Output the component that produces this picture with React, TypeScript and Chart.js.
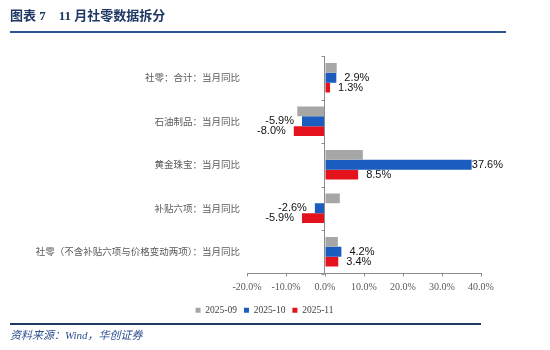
import React, { useEffect, useRef } from 'react';
import { Chart, registerables } from 'chart.js';

Chart.register(...registerables);

const categories: string[] = [
  '社零：合计：当月同比',
  '石油制品：当月同比',
  '黄金珠宝：当月同比',
  '补贴六项：当月同比',
  '社零（不含补贴六项与价格变动两项）：当月同比',
];
const seriesNames: string[] = ['2025-09', '2025-10', '2025-11'];
const sep2025: number[] = [3.0, -7.1, 9.7, 3.8, 3.3];
const oct2025: number[] = [2.9, -5.9, 37.6, -2.6, 4.2];
const nov2025: number[] = [1.3, -8.0, 8.5, -5.9, 3.4];
const xMin = -20;
const xMax = 40;
const xStep = 10;
const labeledSeries: number[] = [1, 2];

const colors = ['#A6A6A6', '#1A5DBF', '#E3121D'];

const zeroAxisPlugin = {
  id: 'zeroAxis',
  afterDatasetsDraw(chart: any) {
    const { ctx, chartArea, scales } = chart;
    const x0 = Math.round(scales.x.getPixelForValue(0)) - 0.5;
    ctx.save();
    ctx.strokeStyle = '#8C8C8C';
    ctx.lineWidth = 1;
    ctx.beginPath();
    ctx.moveTo(x0, chartArea.top);
    ctx.lineTo(x0, chartArea.bottom);
    for (let i = 0; i <= categories.length; i++) {
      const y = Math.round(scales.y.getPixelForValue(i - 0.5)) + 0.5;
      ctx.moveTo(x0 - 3, y);
      ctx.lineTo(x0, y);
    }
    ctx.stroke();
    ctx.restore();
  },
};

const dataLabelPlugin = {
  id: 'dataLabels',
  afterDatasetsDraw(chart: any) {
    const { ctx, chartArea } = chart;
    ctx.save();
    ctx.font = '11px "Liberation Sans", Arial, sans-serif';
    ctx.fillStyle = '#111';
    ctx.textBaseline = 'middle';
    labeledSeries.forEach((di) => {
      const meta = chart.getDatasetMeta(di);
      const values = chart.data.datasets[di].data as number[];
      meta.data.forEach((bar: any, j: number) => {
        const v = values[j];
        const txt = v.toFixed(1) + '%';
        const w = ctx.measureText(txt).width;
        if (v >= 0) {
          let x = bar.x + 8;
          if (x + w > chartArea.right + 22) x = chartArea.right + 22 - w;
          ctx.textAlign = 'left';
          ctx.fillText(txt, x, bar.y);
        } else {
          ctx.textAlign = 'right';
          ctx.fillText(txt, bar.x - 8, bar.y);
        }
      });
    });
    ctx.restore();
  },
};

const legendShiftPlugin = {
  id: 'legendShift',
  afterLayout(chart: any) {
    const lg = chart.legend;
    if (lg) {
      lg.left += 14;
      lg.right += 14;
    }
  },
};

function ChartCanvas() {
  const ref = useRef<HTMLCanvasElement>(null);
  useEffect(() => {
    if (!ref.current) return;
    const chart = new Chart(ref.current, {
      type: 'bar',
      data: {
        labels: categories,
        datasets: [sep2025, oct2025, nov2025].map((d, i) => ({
          label: seriesNames[i],
          data: d,
          backgroundColor: colors[i],
          borderWidth: 0,
          barPercentage: 1,
          categoryPercentage: 0.68,
        })),
      },
      options: {
        indexAxis: 'y',
        animation: false,
        responsive: false,
        maintainAspectRatio: false,
        layout: { padding: { left: 20, right: 69, top: 56, bottom: 25 } },
        scales: {
          x: {
            min: xMin,
            max: xMax,
            ticks: {
              stepSize: xStep,
              padding: 5,
              color: '#595959',
              font: { family: '"Liberation Serif", "Times New Roman", serif', size: 10 },
              callback: (v: any) => Number(v).toFixed(1) + '%',
            },
            grid: { display: true, drawOnChartArea: false, drawTicks: true, tickLength: 3, tickColor: '#8C8C8C' },
            border: { display: true, color: '#8C8C8C' },
          },
          y: {
            afterFit: (scale: any) => { scale.width = 227; },
            ticks: {
              padding: 7,
              color: '#595959',
              font: { family: '"Noto Sans CJK SC", sans-serif', size: 9.5 },
            },
            grid: { display: false, drawTicks: false },
            border: { display: false },
          },
        },
        plugins: {
          legend: {
            position: 'bottom',
            labels: {
              boxWidth: 5,
              boxHeight: 5,
              padding: 7,
              color: '#404040',
              font: { family: '"Liberation Serif", "Times New Roman", serif', size: 9.5 },
            },
          },
          tooltip: { enabled: false },
          title: { display: false },
        },
      },
      plugins: [zeroAxisPlugin, dataLabelPlugin, legendShiftPlugin],
    } as any);
    return () => chart.destroy();
  }, []);
  return <canvas ref={ref} width={550} height={350} style={{ position: 'absolute', left: 0, top: 0, width: 550, height: 350 }} />;
}

export default function App() {
  return (
    <div style={{ position: 'fixed', left: 0, top: 0, width: 550, height: 350, background: '#fff', overflow: 'hidden' }}>
      <ChartCanvas />
      <div style={{ position: 'absolute', left: 10, top: 7, fontFamily: '"Liberation Serif", "Noto Sans CJK SC", serif', fontWeight: 'bold', fontSize: 13, color: '#1F3864', whiteSpace: 'pre', lineHeight: '18px' }}>
        {'图表 7\u300011 月社零数据拆分'}
      </div>
      <div style={{ position: 'absolute', left: 10, top: 31, width: 496, height: 2, background: '#2F5496' }} />
      <div style={{ position: 'absolute', left: 10, top: 323, width: 471, height: 2, background: '#1F3864' }} />
      <div style={{ position: 'absolute', left: 10, top: 328, fontFamily: '"Liberation Serif", "Noto Sans CJK SC", serif', fontStyle: 'italic', fontSize: 11, color: '#2F4F8F', lineHeight: '15px', whiteSpace: 'pre' }}>
        {'资料来源：Wind，华创证券'}
      </div>
    </div>
  );
}
